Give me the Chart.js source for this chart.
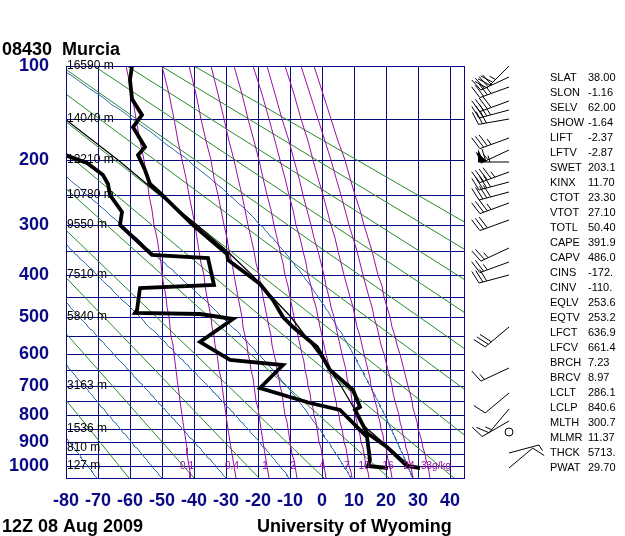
<!DOCTYPE html>
<html lang="en">
<head>
<meta charset="UTF-8">
<title>08430 Murcia sounding</title>
<script src="https://cdn.jsdelivr.net/npm/chart.js"></script>
<style>
  html, body { margin: 0; padding: 0; background: #fff; }
  #wrap { width: 625px; height: 536px; position: relative; }
</style>
</head>
<body>
<div id="wrap"><canvas id="stuve"></canvas></div>
<script>
// sounding (hPa, degC)
const tempP = [1008, 1000, 920, 868, 781, 770, 713, 649, 581, 526, 500, 458, 419, 368, 355, 301, 248, 233, 214, 193, 183, 159, 146, 130, 112, 100];
const tempT = [30.6, 26.5, 20.2, 14.0, 10.3, 11.9, 9.8, 2.5, -1.7, -9.0, -12.1, -15.2, -19.4, -29.3, -29.8, -40.2, -50.6, -53.8, -55.3, -57.4, -55.3, -59.0, -56.3, -59.5, -60.0, -59.5];
const dewP = [1008, 1000, 974, 880, 782, 759, 706, 635, 620, 567, 504, 491, 490, 482, 428, 422, 363, 358, 301, 278, 251, 233, 221, 204, 193, 180];
const dewT = [20.7, 14.5, 15.0, 14.0, 5.6, -3.8, -19.4, -12.1, -28.8, -38.1, -27.7, -38.1, -58.4, -57.9, -56.9, -33.8, -35.5, -53.2, -63.1, -62.6, -66.3, -66.8, -68.3, -73.5, -80.3, -86.0];
const parcelP = [1000, 841, 800, 700, 600, 500, 450, 400, 350, 300, 250, 200, 150];
const parcelT = [27.5, 13.0, 11.2, 5.8, -1.0, -9.8, -15.6, -22.0, -29.6, -39.0, -50.6, -63.7, -80.2];

// winds (hPa, deg, knots)
const windP = [100, 109, 118, 131, 141, 150, 172, 187, 203, 216, 231, 246, 263, 292, 344, 372, 400, 526, 644, 724, 780, 820, 864, 946, 1008];
const windDir = [225, 245, 250, 250, 255, 260, 250, 245, 270, 250, 255, 255, 250, 250, 245, 250, 255, 230, 245, 230, 220, 240, 0, 75, 50];
const windSpd = [35, 40, 35, 40, 35, 30, 35, 55, 65, 45, 40, 40, 35, 30, 25, 25, 30, 30, 15, 10, 15, 10, 0, 4, 10];

// axes
const pressureTicks = [100, 150, 200, 250, 300, 350, 400, 450, 500, 550, 600, 650, 700, 750, 800, 850, 900, 950, 1000];
const tempTicks = [-80, -70, -60, -50, -40, -30, -20, -10, 0, 10, 20, 30, 40];
const heightP = [100, 150, 200, 250, 300, 400, 500, 700, 850, 925, 1000];
const heightLabels = ['16590 m', '14040 m', '12210 m', '10780 m', '9550 m', '7510 m', '5840 m', '3163 m', '1536 m', '810 m', '127 m'];

// background lines
const dryTheta = [210, 230, 250, 270, 290, 310, 330, 350, 370, 390, 410, 430, 450];
const moistTheta = [200, 220, 240, 260, 280, 300];
const mixRatios = [0.1, 0.4, 1, 2, 4, 7, 10, 16, 24, 33];
const mixLabels = ['0.1', '0.4', '1', '2', '4', '7', '10', '16', '24', '33g/kg'];

// station indices
const indexNames = ['SLAT', 'SLON', 'SELV', 'SHOW', 'LIFT', 'LFTV', 'SWET', 'KINX', 'CTOT', 'VTOT', 'TOTL', 'CAPE', 'CAPV', 'CINS', 'CINV', 'EQLV', 'EQTV', 'LFCT', 'LFCV', 'BRCH', 'BRCV', 'LCLT', 'LCLP', 'MLTH', 'MLMR', 'THCK', 'PWAT'];
const indexValues = ['38.00', '-1.16', '62.00', '-1.64', '-2.37', '-2.87', '203.1', '11.70', '23.30', '27.10', '50.40', '391.9', '486.0', '-172.', '-110.', '253.6', '253.2', '636.9', '661.4', '7.23', '8.97', '286.1', '840.6', '300.7', '11.37', '5713.', '29.70'];

const KAPPA = 0.2857;
const NAVY = '#0a0a84';
const FONT = 'Liberation Sans, Arial, sans-serif';

// pressure axis linear in p^kappa (Stuve)
class StuveScale extends Chart.LinearScale {
    buildTicks() {
        return pressureTicks.map(v => ({ value: v }));
    }
    getPixelForValue(v) {
        const a = Math.pow(this.min, KAPPA), b = Math.pow(this.max, KAPPA);
        return this.getPixelForDecimal((Math.pow(v, KAPPA) - a) / (b - a));
    }
    getValueForPixel(px) {
        const a = Math.pow(this.min, KAPPA), b = Math.pow(this.max, KAPPA);
        return Math.pow(a + this.getDecimalForPixel(px) * (b - a), 1 / KAPPA);
    }
}
StuveScale.id = 'stuve';
StuveScale.defaults = Chart.LinearScale.defaults;
Chart.register(StuveScale);

function pts(ps, ts) {
    return ps.map((p, i) => ({ x: ts[i], y: p }));
}

// pseudo-adiabatic lapse dT/dp
function lapse(p, T) {
    const tc = T - 273.15;
    const es = 6.112 * Math.exp(17.67 * tc / (tc + 243.5));
    const rs = 0.622 * es / (p - es);
    return (287.04 * T + 2.501e6 * rs) / (p * (1005.7 + 2.501e6 * 2.501e6 * rs * 0.622 / (287.04 * T * T)));
}
function moistLine(th) {
    const run = (h, pEnd) => {
        let p = 1000, T = th;
        const seg = [];
        while ((h < 0 && p > pEnd) || (h > 0 && p < pEnd)) {
            const k1 = lapse(p, T);
            const k2 = lapse(p + h / 2, T + h / 2 * k1);
            const k3 = lapse(p + h / 2, T + h / 2 * k2);
            const k4 = lapse(p + h, T + h * k3);
            T += h / 6 * (k1 + 2 * k2 + 2 * k3 + k4);
            p += h;
            seg.push({ x: T - 273.15, y: p });
        }
        return seg;
    };
    const up = run(-5, 100).reverse();
    const down = run(5, 1050);
    return up.concat([{ x: th - 273.15, y: 1000 }], down);
}
function mixLine(w) {
    const out = [];
    for (let p = 100; p <= 1050; p += 25) {
        const e = w * p / (622 + w);
        const l = Math.log(e / 6.112);
        out.push({ x: 243.5 * l / (17.67 - l), y: p });
    }
    return out;
}

const datasets = [];
function addLine(data, color, width, order) {
    datasets.push({ data, borderColor: color, borderWidth: width, showLine: true, pointRadius: 0, fill: false, tension: 0, order });
}
addLine(pts(tempP, tempT), '#000', 3.8, 0);
addLine(pts(dewP, dewT), '#000', 3.8, 0);
addLine(pts(parcelP, parcelT), '#000', 1.3, 1);
mixRatios.forEach(w => addLine(mixLine(w), '#9a109e', 1, 2));
moistTheta.forEach(th => addLine(moistLine(th), '#2f6cb0', 1, 3));
dryTheta.forEach(th => addLine([
    { x: th * Math.pow(0.1, KAPPA) - 273.15, y: 100 },
    { x: th * Math.pow(1.05, KAPPA) - 273.15, y: 1050 }
], '#2a8a2a', 1, 4));

function drawBarb(ctx, x, y, dir, spd) {
    ctx.strokeStyle = '#000';
    ctx.fillStyle = '#000';
    ctx.lineWidth = 1;
    if (spd < 2.5) {
        ctx.beginPath();
        ctx.arc(x, y, 4, 0, Math.PI * 2);
        ctx.stroke();
        return;
    }
    const a = dir * Math.PI / 180;
    const ux = Math.sin(a), uy = -Math.cos(a);
    const rx = -uy, ry = ux;
    const L = 31, F = 13;
    ctx.beginPath();
    ctx.moveTo(x, y);
    ctx.lineTo(x + ux * L, y + uy * L);
    ctx.stroke();
    let s = Math.round(spd / 5) * 5;
    let d = L;
    while (s >= 50) {
        ctx.beginPath();
        ctx.moveTo(x + ux * d, y + uy * d);
        ctx.lineTo(x + ux * d + rx * F, y + uy * d + ry * F);
        ctx.lineTo(x + ux * (d - 6), y + uy * (d - 6));
        ctx.closePath();
        ctx.fill();
        d -= 8;
        s -= 50;
    }
    while (s >= 10) {
        ctx.beginPath();
        ctx.moveTo(x + ux * d, y + uy * d);
        ctx.lineTo(x + ux * (d + 4) + rx * F, y + uy * (d + 4) + ry * F);
        ctx.stroke();
        d -= 4;
        s -= 10;
    }
    if (s >= 5) {
        ctx.beginPath();
        ctx.moveTo(x + ux * d, y + uy * d);
        ctx.lineTo(x + ux * (d + 2) + rx * F / 2, y + uy * (d + 2) + ry * F / 2);
        ctx.stroke();
    }
}

const decorations = {
    id: 'decorations',
    afterDraw(chart) {
        const ctx = chart.ctx;
        const area = chart.chartArea;
        const ys = chart.scales.y, xs = chart.scales.x;
        ctx.save();
        // frame
        ctx.strokeStyle = NAVY;
        ctx.lineWidth = 1;
        ctx.strokeRect(Math.round(area.left) + 0.5, Math.round(area.top) + 0.5,
            Math.round(area.right - area.left), Math.round(area.bottom - area.top));

        // heights
        ctx.fillStyle = '#000';
        ctx.font = '12px ' + FONT;
        ctx.textBaseline = 'middle';
        ctx.textAlign = 'left';
        heightP.forEach((p, i) => ctx.fillText(heightLabels[i], area.left + 1, ys.getPixelForValue(p)));

        // mixing ratio labels
        ctx.fillStyle = '#9a109e';
        ctx.font = '10px ' + FONT;
        const y1000 = ys.getPixelForValue(1000);
        mixRatios.forEach((w, i) => {
            const e = w * 1000 / (622 + w);
            const l = Math.log(e / 6.112);
            const px = xs.getPixelForValue(243.5 * l / (17.67 - l));
            if (i === mixRatios.length - 1) {
                ctx.textAlign = 'left';
                ctx.fillText(mixLabels[i], px - 7, y1000);
            } else {
                ctx.textAlign = 'center';
                ctx.fillText(mixLabels[i], px - 2, y1000);
            }
        });

        // titles
        ctx.fillStyle = '#000';
        ctx.font = 'bold 18px ' + FONT;
        ctx.textAlign = 'left';
        ctx.textBaseline = 'alphabetic';
        ctx.fillText('08430  Murcia', 2, 55);
        ctx.fillText('12Z 08 Aug 2009', 2, 532);
        ctx.fillText('University of Wyoming', 257, 532);

        // indices
        ctx.font = '11px ' + FONT;
        indexNames.forEach((n, i) => {
            ctx.fillText(n, 550, 81 + i * 15);
            ctx.fillText(indexValues[i], 588, 81 + i * 15);
        });

        // wind barbs
        windP.forEach((p, i) => drawBarb(ctx, 509, ys.getPixelForValue(p), windDir[i], windSpd[i]));
        ctx.restore();
    }
};

new Chart(document.getElementById('stuve'), {
    type: 'scatter',
    data: { datasets },
    options: {
        responsive: true,
        maintainAspectRatio: false,
        animation: false,
        events: [],
        layout: { autoPadding: false, padding: { top: 66, right: 161, left: 0, bottom: 0 } },
        plugins: { legend: { display: false }, tooltip: { enabled: false } },
        scales: {
            x: {
                type: 'linear',
                min: -80,
                max: 44.375,
                alignToPixels: true,
                afterBuildTicks: s => { s.ticks = tempTicks.map(v => ({ value: v })); },
                afterFit: s => { s.height = 58; },
                grid: { color: NAVY, lineWidth: 1, drawTicks: false },
                border: { color: NAVY },
                ticks: {
                    autoSkip: false,
                    maxRotation: 0,
                    padding: 12,
                    color: NAVY,
                    font: { family: FONT, size: 18, weight: 'bold' }
                }
            },
            y: {
                type: 'stuve',
                position: 'left',
                min: 100,
                max: 1050,
                reverse: true,
                alignToPixels: true,
                afterFit: s => { s.width = 66; },
                grid: { color: NAVY, lineWidth: 1, drawTicks: false },
                border: { color: NAVY },
                ticks: {
                    autoSkip: false,
                    padding: 17,
                    color: NAVY,
                    font: { family: FONT, size: 18, weight: 'bold' },
                    callback: v => (v % 100 === 0 ? String(v) : '')
                }
            }
        }
    },
    plugins: [decorations]
});
</script>
</body>
</html>
